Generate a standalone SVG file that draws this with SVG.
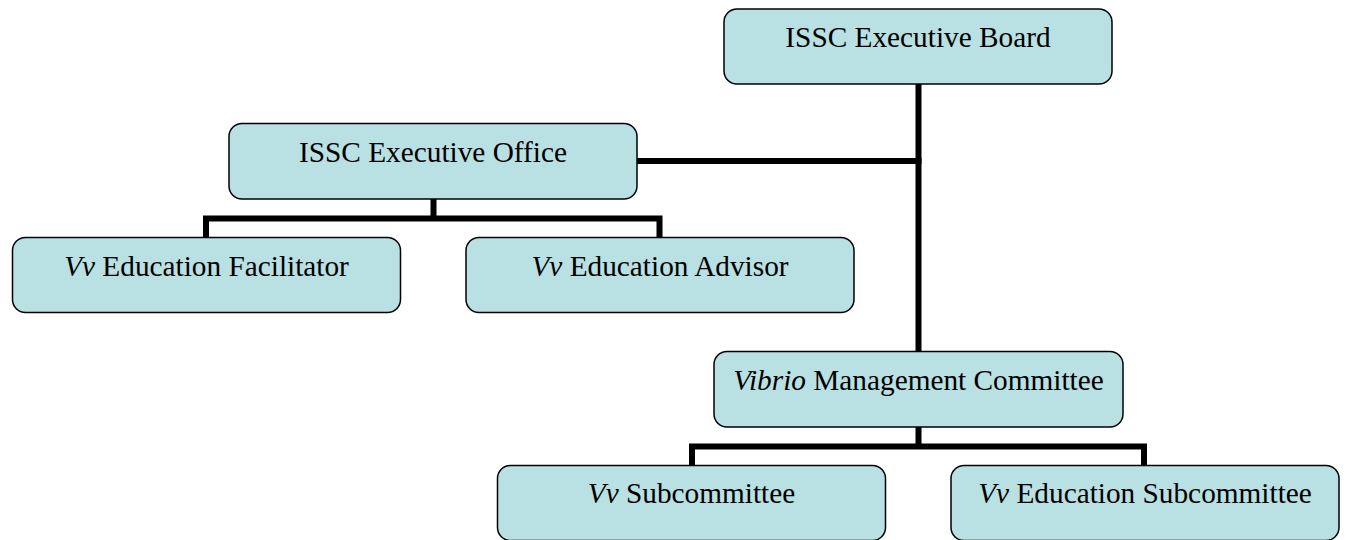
<svg xmlns="http://www.w3.org/2000/svg" width="1348" height="540" viewBox="0 0 1348 540">
  <style>
    .box { fill: #B9E0E3; stroke: #000; stroke-width: 1.5; }
    .lbl { font-size: 29.3px; fill: #000; text-anchor: middle; }
    .it { font-style: italic; }
    .wire { fill: none; stroke: #000; stroke-width: 6; stroke-linecap: square; stroke-linejoin: miter; }
  </style>
  <rect width="1348" height="540" fill="#fff"/>

  <g id="connectors">
    <path class="wire" d="M918.5 86 V350"/>
    <path class="wire" d="M639 161 H918.5"/>
    <path class="wire" d="M433.5 201 V218.5 M206 236 V218.5 H659.5 V236"/>
    <path class="wire" d="M918.5 429 V446.5 M692 464 V446.5 H1144 V464"/>
  </g>

  <g font-family="'Liberation Serif', 'Times New Roman', Tinos, 'DejaVu Serif', serif">
    <g id="board">
      <rect class="box" x="724" y="9" width="388" height="75" rx="13"/>
      <text class="lbl" x="918" y="46.5">ISSC Executive Board</text>
    </g>

    <g id="office">
      <rect class="box" x="229" y="123.5" width="408" height="75.5" rx="13"/>
      <text class="lbl" x="433" y="161.5">ISSC Executive Office</text>
    </g>

    <g id="facilitator">
      <rect class="box" x="12.5" y="237.5" width="388" height="75" rx="13"/>
      <text class="lbl" x="206.5" y="275.5"><tspan class="it">Vv</tspan> Education Facilitator</text>
    </g>

    <g id="advisor">
      <rect class="box" x="466" y="237.5" width="388" height="75" rx="13"/>
      <text class="lbl" x="660" y="275.5"><tspan class="it">Vv</tspan> Education Advisor</text>
    </g>

    <g id="management">
      <rect class="box" x="714" y="351.5" width="409" height="75.5" rx="13"/>
      <text class="lbl" x="918.5" y="389.5"><tspan class="it">Vibrio</tspan> Management Committee</text>
    </g>

    <g id="subcommittee">
      <rect class="box" x="497.5" y="465.5" width="388" height="75" rx="13"/>
      <text class="lbl" x="691.5" y="503"><tspan class="it">Vv</tspan> Subcommittee</text>
    </g>

    <g id="education-subcommittee">
      <rect class="box" x="951" y="465.5" width="388" height="75" rx="13"/>
      <text class="lbl" x="1145" y="503"><tspan class="it">Vv</tspan> Education Subcommittee</text>
    </g>
  </g>
</svg>
